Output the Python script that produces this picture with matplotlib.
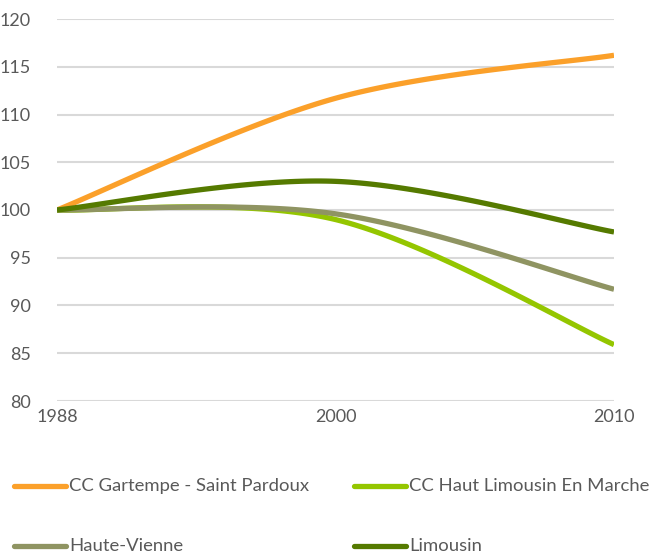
import numpy as np
import matplotlib
matplotlib.use("Agg")
import matplotlib.pyplot as plt
from matplotlib.lines import Line2D

plt.rcParams['font.family'] = ['Lato', 'DejaVu Sans']

# Population index (base 100 in 1988)
years = ["1988", "2000", "2010"]
gartempe = [100.0, 111.7, 116.2]
haut_limousin = [100.0, 99.0, 85.9]
haute_vienne = [100.0, 99.6, 91.7]
limousin = [100.0, 103.0, 97.7]

series = [
    ("CC Gartempe - Saint Pardoux", gartempe, "#FBA02A"),
    ("CC Haut Limousin En Marche", haut_limousin, "#94C600"),
    ("Haute-Vienne", haute_vienne, "#8F9462"),
    ("Limousin", limousin, "#557A00"),
]
y_ticks = [80, 85, 90, 95, 100, 105, 110, 115, 120]
text_color = "#595959"
grid_color = "#D9D9D9"


def smooth(xs, ys, n=60):
    """Bezier smoothing through the points (office-chart style)."""
    pts = np.column_stack([xs, ys]).astype(float)
    m = len(pts)
    out = []
    for i in range(m - 1):
        p_prev = pts[max(i - 1, 0)]
        p0 = pts[i]
        p1 = pts[i + 1]
        p_next = pts[min(i + 2, m - 1)]
        c1 = p0 + (p1 - p_prev) / 6.0
        c2 = p1 - (p_next - p0) / 6.0
        t = np.linspace(0, 1, n)[:, None]
        seg = ((1 - t) ** 3) * p0 + 3 * ((1 - t) ** 2) * t * c1 \
            + 3 * (1 - t) * t ** 2 * c2 + t ** 3 * p1
        out.append(seg if i == 0 else seg[1:])
    seg = np.vstack(out)
    return seg[:, 0], seg[:, 1]


W, H = 655, 555
fig = plt.figure(figsize=(W / 100, H / 100), dpi=100)
ax = fig.add_axes([57 / W, 1 - 401 / H, 557 / W, 382 / H])

x = np.arange(len(years))
for label, vals, color in series:
    sx, sy = smooth(x, vals)
    ax.plot(sx, sy, color=color, lw=3.8, solid_capstyle="butt", zorder=3)

ax.set_xlim(0, len(years) - 1)
ax.set_ylim(80, 120)
ax.set_yticks(y_ticks)
ax.set_xticks(x)
ax.set_xticklabels(years)
ax.yaxis.grid(True, color=grid_color, lw=1.5)
ax.set_axisbelow(True)
for s in ["top", "right", "left", "bottom"]:
    ax.spines[s].set_visible(False)
ax.tick_params(axis="both", length=0, labelsize=13, labelcolor=text_color)
ax.tick_params(axis="y", pad=19)
ax.tick_params(axis="x", pad=6)

# Legend in two columns below the plot
legend_pos = [(12, 486), (352, 486), (12, 546), (352, 546)]
for (label, vals, color), (lx, ly) in zip(series, legend_pos):
    fy = 1 - ly / H
    fig.add_artist(Line2D([(lx + 2) / W, (lx + 54) / W], [fy, fy], color=color,
                          lw=3.8, solid_capstyle="round",
                          transform=fig.transFigure))
    fig.text((lx + 57) / W, fy, label, color=text_color, fontsize=13.3,
             va="center", ha="left")

fig.savefig("out.png", dpi=100)
